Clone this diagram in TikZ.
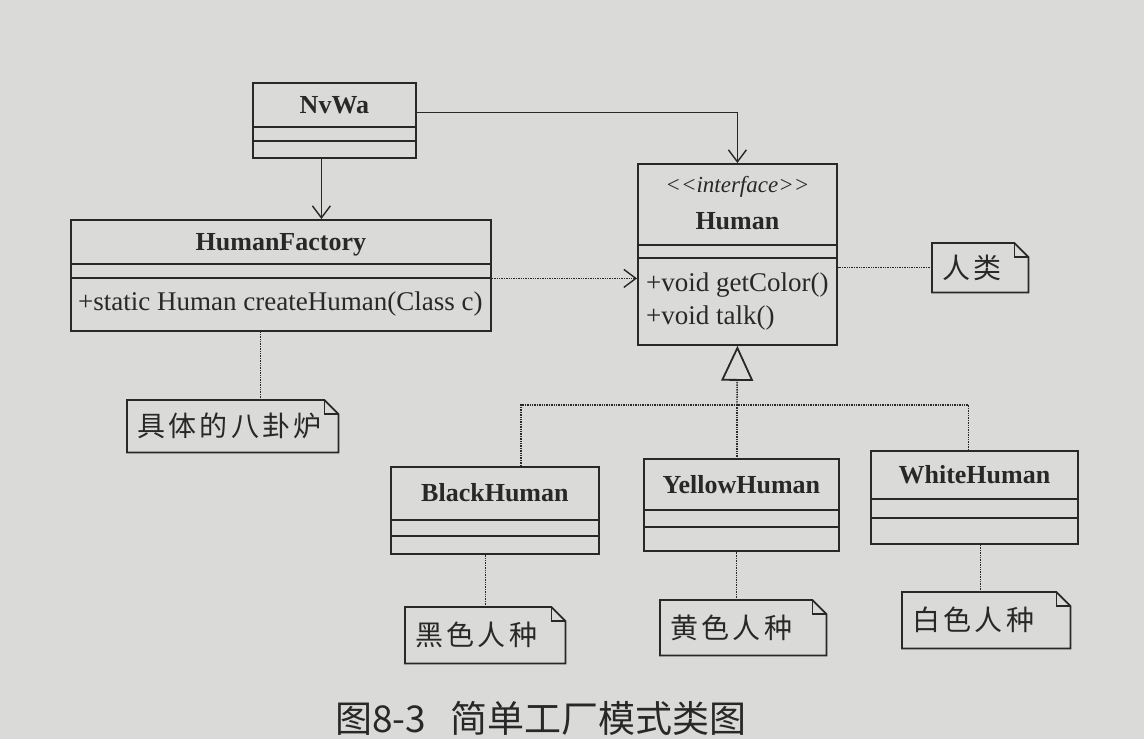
\documentclass[tikz,border=0pt]{standalone}
\usepackage{fontspec}
\setmainfont{Liberation Serif}
\newfontfamily\cjk{Noto Sans CJK SC}
\usetikzlibrary{arrows.meta}
\definecolor{paper}{RGB}{218,218,216}
\definecolor{ink}{RGB}{40,40,40}

% horizontal compartment separators of a class box
\newcommand\compartments[3]{%
  \draw[boxline] ([yshift=-#2pt]#1.north west) -- ([yshift=-#2pt]#1.north east);
  \draw[boxline] ([yshift=-#3pt]#1.north west) -- ([yshift=-#3pt]#1.north east);}
% outline of a note with a folded corner
\newcommand\noteoutline[1]{%
  \draw[boxline] (#1.north west) -- ([xshift=-14pt]#1.north east)
    -- ([yshift=-14pt]#1.north east) -- (#1.south east) -- (#1.south west) -- cycle;
  \draw[boxline] ([xshift=-14pt]#1.north east) -- ([xshift=-14pt,yshift=-14pt]#1.north east)
    -- ([yshift=-14pt]#1.north east);}

\begin{document}
\begin{tikzpicture}[x=1pt,y=-1pt,
  boxline/.style={draw=ink,line width=1.8pt},
  classbox/.style={draw=ink,line width=1.8pt,rectangle,anchor=north west,inner sep=0pt},
  classname/.style={font=\fontsize{26}{28}\selectfont\bfseries,text=ink},
  stereotype/.style={font=\fontsize{23}{25}\selectfont\itshape,text=ink},
  member/.style={font=\fontsize{27}{29}\selectfont,text=ink,anchor=west,inner sep=0pt},
  notebox/.style={anchor=north west,inner xsep=10pt,inner ysep=0pt,align=left,
    font=\cjk\addfontfeature{LetterSpace=12}\fontsize{28}{30}\selectfont,text=ink},
  assoc/.style={draw=ink,line width=1.4pt,-{Straight Barb[length=12pt,width=18pt,line width=1.4pt]}},
  depend/.style={draw=ink,line width=1.4pt,densely dotted,-{Straight Barb[length=12pt,width=18pt,line width=1.4pt,line cap=butt]}},
  realize/.style={draw=ink,line width=1.4pt,densely dotted},
  generalize/.style={realize,-{Triangle[open,length=35pt,width=32pt,line width=1.8pt,sep=0pt]}},
  anchorline/.style={draw=ink,line width=1.4pt,densely dotted}
]
\fill[paper] (0,0) rectangle (1144,739);

% ---- classes ----
\node[classbox,minimum width=163pt,minimum height=75pt] (nvwa) at (252,82) {};
\compartments{nvwa}{45}{59}
\node[classname] (nvwaT) at ([yshift=-23pt]nvwa.north) {NvWa};

\node[classbox,minimum width=420pt,minimum height=111pt] (factory) at (70,219) {};
\compartments{factory}{45}{59}
\node[classname] (factoryT) at ([yshift=-26pt]factory.north) {HumanFactory};
\node[member] (factoryM) at ([xshift=8pt,yshift=-85pt]factory.north west) {+static Human createHuman(Class c)};

\node[classbox,minimum width=199pt,minimum height=181pt] (human) at (637,163) {};
\compartments{human}{82}{95}
\node[stereotype] (humanS) at ([yshift=-24pt]human.north) {<\kern0pt<interface>\kern0pt>};
\node[classname] (humanT) at ([yshift=-58pt]human.north) {Human};
\node[member] (humanM1) at ([xshift=9pt,yshift=-122pt]human.north west) {+void getColor()};
\node[member] (humanM2) at ([xshift=9pt,yshift=-155pt]human.north west) {+void talk()};

\node[classbox,minimum width=208pt,minimum height=87pt] (black) at (390,466) {};
\compartments{black}{54}{70}
\node[classname] (blackT) at ([yshift=-27pt]black.north) {BlackHuman};

\node[classbox,minimum width=195pt,minimum height=92pt] (yellow) at (643,458) {};
\compartments{yellow}{52}{69}
\node[classname] (yellowT) at ([yshift=-27pt]yellow.north) {YellowHuman};

\node[classbox,minimum width=207pt,minimum height=93pt] (white) at (870,450) {};
\compartments{white}{49}{68}
\node[classname] (whiteT) at ([yshift=-25pt]white.north) {WhiteHuman};

% ---- notes ----
\node[notebox,text width=76pt,minimum height=49pt] (renlei) at (932,243) {人类};
\noteoutline{renlei}
\node[notebox,text width=191pt,minimum height=52pt] (bagua) at (127,400) {具体的八卦炉};
\noteoutline{bagua}
\node[notebox,text width=140pt,minimum height=56pt] (heise) at (405,607) {黑色人种};
\noteoutline{heise}
\node[notebox,text width=146pt,minimum height=55pt] (huangse) at (660,600) {黄色人种};
\noteoutline{huangse}
\node[notebox,text width=148pt,minimum height=56pt] (baise) at (902,592) {白色人种};
\noteoutline{baise}

% ---- relations ----
\draw[assoc] ([yshift=8pt]nvwa.east) -| (human.north);
\draw[assoc] ([xshift=-13pt]nvwa.south) -- ([xshift=-13pt]nvwa.south |- factory.north);
\draw[depend] ([yshift=-3pt]factory.east) -- ([yshift=-3pt]factory.east -| human.west);

\coordinate (fork) at (737,405);
\draw[generalize] (fork) -- (human.south);
\draw[realize] ([xshift=26pt]black.north) |- (fork) -| ([xshift=-6pt]white.north);
\draw[realize] (fork) -- (fork |- yellow.north);

% ---- note anchors ----
\draw[anchorline] (renlei.west) -- (renlei.west -| human.east);
\draw[anchorline] ([xshift=28pt]bagua.north) -- ([xshift=28pt]bagua.north |- factory.south);
\draw[anchorline] (heise.north) -- (heise.north |- black.south);
\draw[anchorline] ([xshift=-7pt]huangse.north) -- ([xshift=-7pt]huangse.north |- yellow.south);
\draw[anchorline] ([xshift=-6pt]baise.north) -- ([xshift=-6pt]baise.north |- white.south);

% ---- caption ----
\node[anchor=west,inner sep=0pt,font=\cjk\fontsize{37}{40}\selectfont,text=ink] (caption) at (335,718)
  {图8-3\hspace{24pt}简单工厂模式类图};
\end{tikzpicture}
\end{document}
